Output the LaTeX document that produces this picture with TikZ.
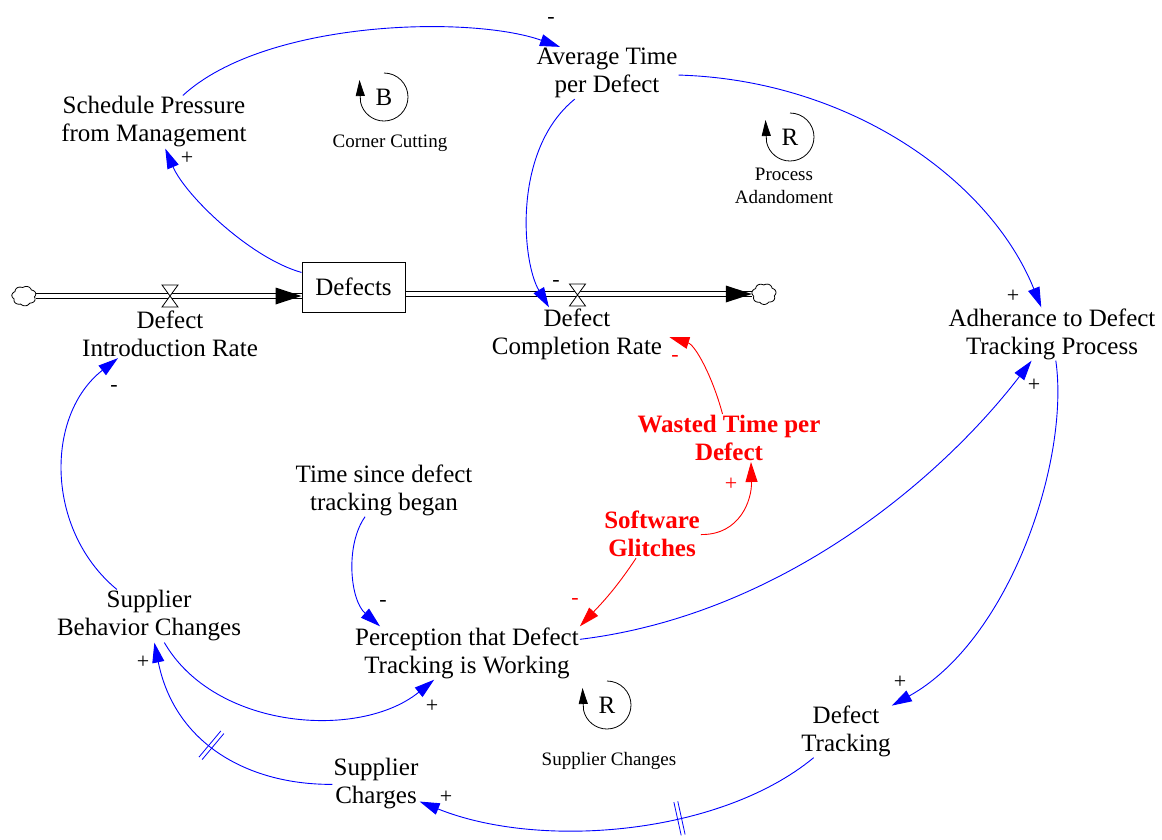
\documentclass[tikz,border=0pt]{standalone}
\usepackage{fontspec}
\setmainfont{Liberation Serif}
\usetikzlibrary{arrows.meta,decorations.markings}
\begin{document}
\begin{tikzpicture}[x=1pt,y=1pt,
  var/.style={font=\fontsize{25}{28}\selectfont, align=center, inner sep=1pt},
  redvar/.style={font=\fontsize{25}{28}\selectfont\bfseries, text=red, align=center, inner sep=1pt},
  small/.style={font=\fontsize{19}{23}\selectfont, align=center, inner sep=0pt},
  sign/.style={font=\fontsize{22}{22}\selectfont, inner sep=0pt},
  link/.style={draw=blue, line width=0.9pt, -{Triangle[length=20pt,width=12pt]}},
  rlink/.style={link, draw=red},
  pipe/.style={double distance=3.4pt, line width=1.2pt},
  valveshape/.style={draw, line width=0.8pt, fill=white},
  cloudbox/.style={minimum width=24pt, minimum height=20pt, inner sep=0pt},
  cloudline/.style={line width=0.8pt, fill=white},
  loopsym/.style={line width=0.8pt, -{Triangle[length=16pt,width=9pt]}},
  delaymark/.style={postaction={decorate, decoration={markings, mark=at position #1 with {\draw[blue, line width=0.8pt, arrows=-] (-2pt,-17pt) -- (-2pt,17pt) (2pt,-17pt) -- (2pt,17pt);}}}}
]
\useasboundingbox (0,0) rectangle (1162,-839);

% stock and flows
\node[draw, line width=1pt, minimum width=103pt, minimum height=50pt, inner sep=0pt, font=\fontsize{25}{28}\selectfont] (defects) at (353.5,-287) {Defects};
\node[cloudbox] (cloudL) at (24,-296) {};
\node[cloudbox] (cloudR) at (764,-294) {};
\coordinate (v1) at (170,-296);
\coordinate (v2) at (577.5,-295);
\draw[pipe] (cloudL.east) -- (cloudL.east -| defects.west);
\fill (cloudL.east -| defects.west) -- ++(-26,8.5) -- ++(0,-17) -- cycle;
\draw[pipe] (defects.east |- cloudR.west) -- (cloudR.west);
\fill (cloudR.west) -- ++(-26,8.5) -- ++(0,-17) -- cycle;
\draw[cloudline, shift={(cloudL.center)}] plot[domain=0:360, samples=150, smooth] ({10.5*cos(\x)*(1+0.16*abs(sin(3.5*\x+20)))}, {8.5*sin(\x)*(1+0.16*abs(sin(3.5*\x+20)))}) -- cycle;
\draw[cloudline, shift={(cloudR.center)}] plot[domain=0:360, samples=150, smooth] ({10.5*cos(\x)*(1+0.16*abs(sin(3.5*\x+40)))}, {9*sin(\x)*(1+0.16*abs(sin(3.5*\x+40)))}) -- cycle;
\draw[valveshape] ([shift={(-8,11)}]v1) -- ++(16,0) -- ++(-16,-22) -- ++(16,0) -- cycle;
\draw[valveshape] ([shift={(-8,11)}]v2) -- ++(16,0) -- ++(-16,-22) -- ++(16,0) -- cycle;

% variables
\node[var] (sched) at (154,-122) {Schedule Pressure\\from Management};
\node[var] (avg) at (607,-73) {Average Time\\per Defect};
\node[var] (intro) at (170,-334) {Defect\\Introduction Rate};
\node[var] (compl) at (577,-334) {Defect\\Completion Rate};
\node[var] (adher) at (1052,-334) {Adherance to Defect\\Tracking Process};
\node[redvar] (wasted) at (729,-438) {Wasted Time per\\Defect};
\node[var] (time) at (384,-490) {Time since defect\\tracking began};
\node[redvar] (sg) at (652,-534) {Software\\Glitches};
\node[var] (sbc) at (149,-616) {Supplier\\Behavior Changes};
\node[var] (percep) at (467,-653) {Perception that Defect\\Tracking is Working};
\node[var] (dtrack) at (846,-731) {Defect\\Tracking};
\node[var] (scharges) at (376,-784) {Supplier\\Charges};

% loop symbols
\node[var] (loopB) at (384,-97) {B};
\draw[loopsym] ([shift={(90:24)}]loopB.center) arc[start angle=90, end angle=-168, radius=24] -- ++(-1,22);
\node[small] (labB) at (390,-143) {Corner Cutting};
\node[var] (loopR1) at (790,-137) {R};
\draw[loopsym] ([shift={(90:24)}]loopR1.center) arc[start angle=90, end angle=-168, radius=24] -- ++(-1,22);
\node[small] (labR1) at (784,-186) {Process\\Adandoment};
\node[var] (loopR2) at (607,-705) {R};
\draw[loopsym] ([shift={(90:24)}]loopR2.center) arc[start angle=90, end angle=-168, radius=24] -- ++(-1,22);
\node[small] (labR2) at (609,-761) {Supplier Changes};

% links
\draw[link] (defects) .. controls (250,-258) and (185,-195) .. (sched);
\draw[link] (sched) .. controls (265,-20) and (470,-15) .. ([xshift=-47pt]avg.north);
\draw[link] (avg) .. controls (512,-150) and (522,-262) .. ([xshift=-28pt]compl.north);
\draw[link] (avg) .. controls (850,-80) and (990,-180) .. (adher);
\draw[link] (adher) .. controls (1070,-460) and (1010,-640) .. (dtrack);
\draw[link, delaymark=0.36] (dtrack) .. controls (720,-835) and (540,-850) .. (scharges);
\draw[link, delaymark=0.52] (scharges) .. controls (250,-785) and (175,-745) .. (sbc);
\draw[link] (sbc) .. controls (215,-730) and (360,-740) .. (percep);
\draw[link] (sbc) .. controls (45,-530) and (45,-415) .. ([xshift=-52pt]intro.south);
\draw[link] (time) .. controls (345,-545) and (350,-600) .. ([xshift=26pt]percep.north west);
\draw[link] (percep) .. controls (780,-615) and (940,-480) .. (adher);
\draw[rlink] (sg) .. controls (615,-590) and (600,-605) .. (percep.north east);
\draw[rlink] (sg) .. controls (740,-535) and (752,-500) .. ([xshift=22pt]wasted.south);
\draw[rlink] (wasted) .. controls (712,-375) and (695,-345) .. ([shift={(6pt,-3pt)}]compl.east);

% polarities
\node[sign] (s1) at (187,-158) {+};
\node[sign] (s2) at (551,-20) {-};
\node[sign] (s3) at (556,-283) {-};
\node[sign] (s4) at (1013,-296) {+};
\node[sign] (s5) at (1034,-385) {+};
\node[sign] (s6) at (900,-682) {+};
\node[sign] (s7) at (446,-797) {+};
\node[sign] (s8) at (143,-662) {+};
\node[sign] (s9) at (432,-706) {+};
\node[sign] (s10) at (114,-388) {-};
\node[sign] (s11) at (383,-603) {-};
\node[sign, text=red] (s12) at (575,-601) {-};
\node[sign, text=red] (s13) at (731,-484) {+};
\node[sign, text=red] (s14) at (675,-358) {-};
\end{tikzpicture}
\end{document}
